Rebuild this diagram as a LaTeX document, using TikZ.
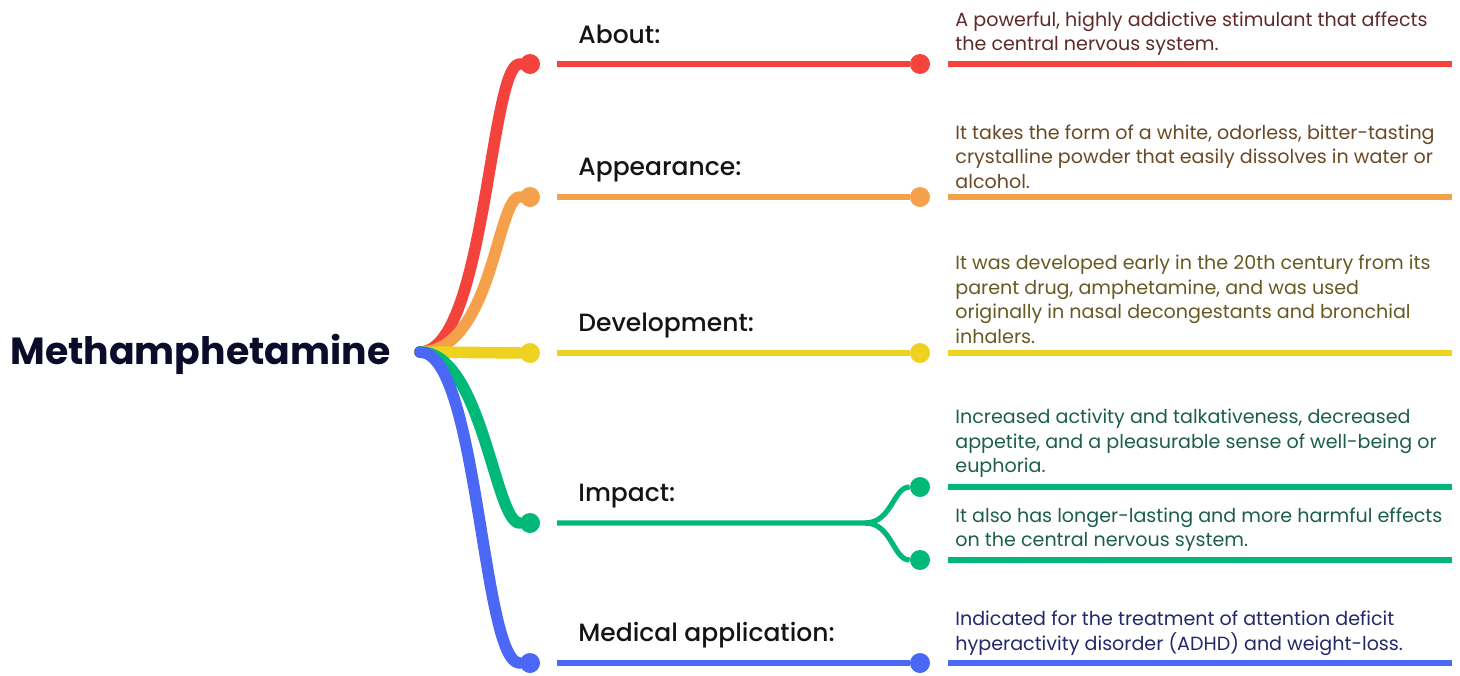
\documentclass[tikz,border=0pt]{standalone}
\usepackage{fontspec}
\setmainfont{Poppins}
\newfontfamily\headfont{Poppins Medium}
\usetikzlibrary{positioning}
\definecolor{cRed}{HTML}{F4433C}
\definecolor{cOrange}{HTML}{F5A04A}
\definecolor{cYellow}{HTML}{EFD11F}
\definecolor{cGreen}{HTML}{00B877}
\definecolor{cBlue}{HTML}{4A68F5}
\definecolor{tRed}{HTML}{5E2A2A}
\definecolor{tOrange}{HTML}{6A4A24}
\definecolor{tYellow}{HTML}{665A22}
\definecolor{tGreen}{HTML}{1C5E4C}
\definecolor{tBlue}{HTML}{22286A}
\definecolor{tRoot}{HTML}{0B0B2A}
\tikzset{
  dot/.style={circle,fill=#1,inner sep=0pt,minimum size=10pt},
  branch/.style={draw=#1,line width=5.8pt,line cap=round},
  stem/.style={draw=#1,line width=2.6pt},
  rule/.style={draw=#1,line width=2.6pt},
  head/.style={anchor=base west,inner sep=0pt,text=black!92,font=\headfont\fontsize{12.5}{14}\selectfont},
  desc/.style={anchor=south west,align=left,inner sep=0pt,text=#1,font=\fontsize{9.55}{12.25}\selectfont},
}
\begin{document}
\begin{tikzpicture}[x=0.5pt,y=-0.5pt, line join=round]
\useasboundingbox (0,0) rectangle (1460,675);
\node[anchor=west,inner sep=0pt,text=tRoot,font=\bfseries\fontsize{18.9}{22}\selectfont] (root) at (10,354) {Methamphetamine};
\coordinate (hub) at (420,352);
% branch ends
\node[dot=cRed]    (aboutA) at (530,64)  {};
\node[dot=cOrange] (lookA)  at (530,197) {};
\node[dot=cYellow] (devA)   at (530,353) {};
\node[dot=cGreen]  (impA)   at (530,523) {};
\node[dot=cBlue]   (medA)   at (530,663) {};
\draw[branch=cRed]    (hub) .. controls (485,352) and (490,64)  .. (aboutA);
\draw[branch=cOrange] (hub) .. controls (492,352) and (497,197) .. (lookA);
\draw[branch=cYellow] (hub) -- (devA);
\draw[branch=cGreen]  (hub) .. controls (482,352) and (495,523) .. (impA);
\draw[branch=cBlue]   (hub) .. controls (478,352) and (482,663) .. (medA);
% headings
\coordinate (aboutS) at (557,64);
\coordinate (lookS)  at (557,197);
\coordinate (devS)   at (557,353);
\coordinate (impS)   at (557,523);
\coordinate (medS)   at (557,663);
\node[head] (aboutH) at (578,43)  {About:};
\node[head] (lookH)  at (578,175) {Appearance:};
\node[head] (devH)   at (578,331) {Development:};
\node[head] (impH)   at (578,501) {Impact:};
\node[head] (medH)   at (578,641) {Medical application:};
% stems
\node[dot=cRed]    (aboutB) at (920,64)  {};
\node[dot=cOrange] (lookB)  at (920,197) {};
\node[dot=cYellow] (devB)   at (920,353) {};
\node[dot=cGreen]  (impB)   at (920,487) {};
\node[dot=cGreen]  (impC)   at (920,560) {};
\node[dot=cBlue]   (medB)   at (920,663) {};
\coordinate (impF) at (865,523);
\draw[stem=cRed]    (aboutS) -- (aboutB);
\draw[stem=cOrange] (lookS) -- (lookB);
\draw[stem=cYellow] (devS) -- (devB);
\draw[stem=cGreen]  (impS) -- (impF) .. controls (892,523) and (893,487) .. (impB);
\draw[stem=cGreen]  (impF) .. controls (892,523) and (893,560) .. (impC);
\draw[stem=cBlue]   (medS) -- (medB);
% rules
\coordinate (aboutR) at (948,64);  \coordinate (aboutE) at (1452,64);
\coordinate (lookR)  at (948,197); \coordinate (lookE)  at (1452,197);
\coordinate (devR)   at (948,353); \coordinate (devE)   at (1452,353);
\coordinate (impR)   at (948,487); \coordinate (impE)   at (1452,487);
\coordinate (imp2R)  at (948,560); \coordinate (imp2E)  at (1452,560);
\coordinate (medR)   at (948,663); \coordinate (medE)   at (1452,663);
\draw[rule=cRed]    (aboutR) -- (aboutE);
\draw[rule=cOrange] (lookR) -- (lookE);
\draw[rule=cYellow] (devR) -- (devE);
\draw[rule=cGreen]  (impR) -- (impE);
\draw[rule=cGreen]  (imp2R) -- (imp2E);
\draw[rule=cBlue]   (medR) -- (medE);
% descriptions
\node[desc=tRed] (aboutT) at (955,56) {A powerful, highly addictive stimulant that affects\\the central nervous system.};
\node[desc=tOrange] (lookT) at (955,189) {It takes the form of a white, odorless, bitter-tasting\\crystalline powder that easily dissolves in water or\\alcohol.};
\node[desc=tYellow] (devT) at (955,344) {It was developed early in the 20th century from its\\parent drug, amphetamine, and was used\\originally in nasal decongestants and bronchial\\inhalers.};
\node[desc=tGreen] (impT) at (955,478) {Increased activity and talkativeness, decreased\\appetite, and a pleasurable sense of well-being or\\euphoria.};
\node[desc=tGreen] (imp2T) at (955,552) {It also has longer-lasting and more harmful effects\\on the central nervous system.};
\node[desc=tBlue] (medT) at (955,656) {Indicated for the treatment of attention deficit\\hyperactivity disorder (ADHD) and weight-loss.};
\end{tikzpicture}
\end{document}
